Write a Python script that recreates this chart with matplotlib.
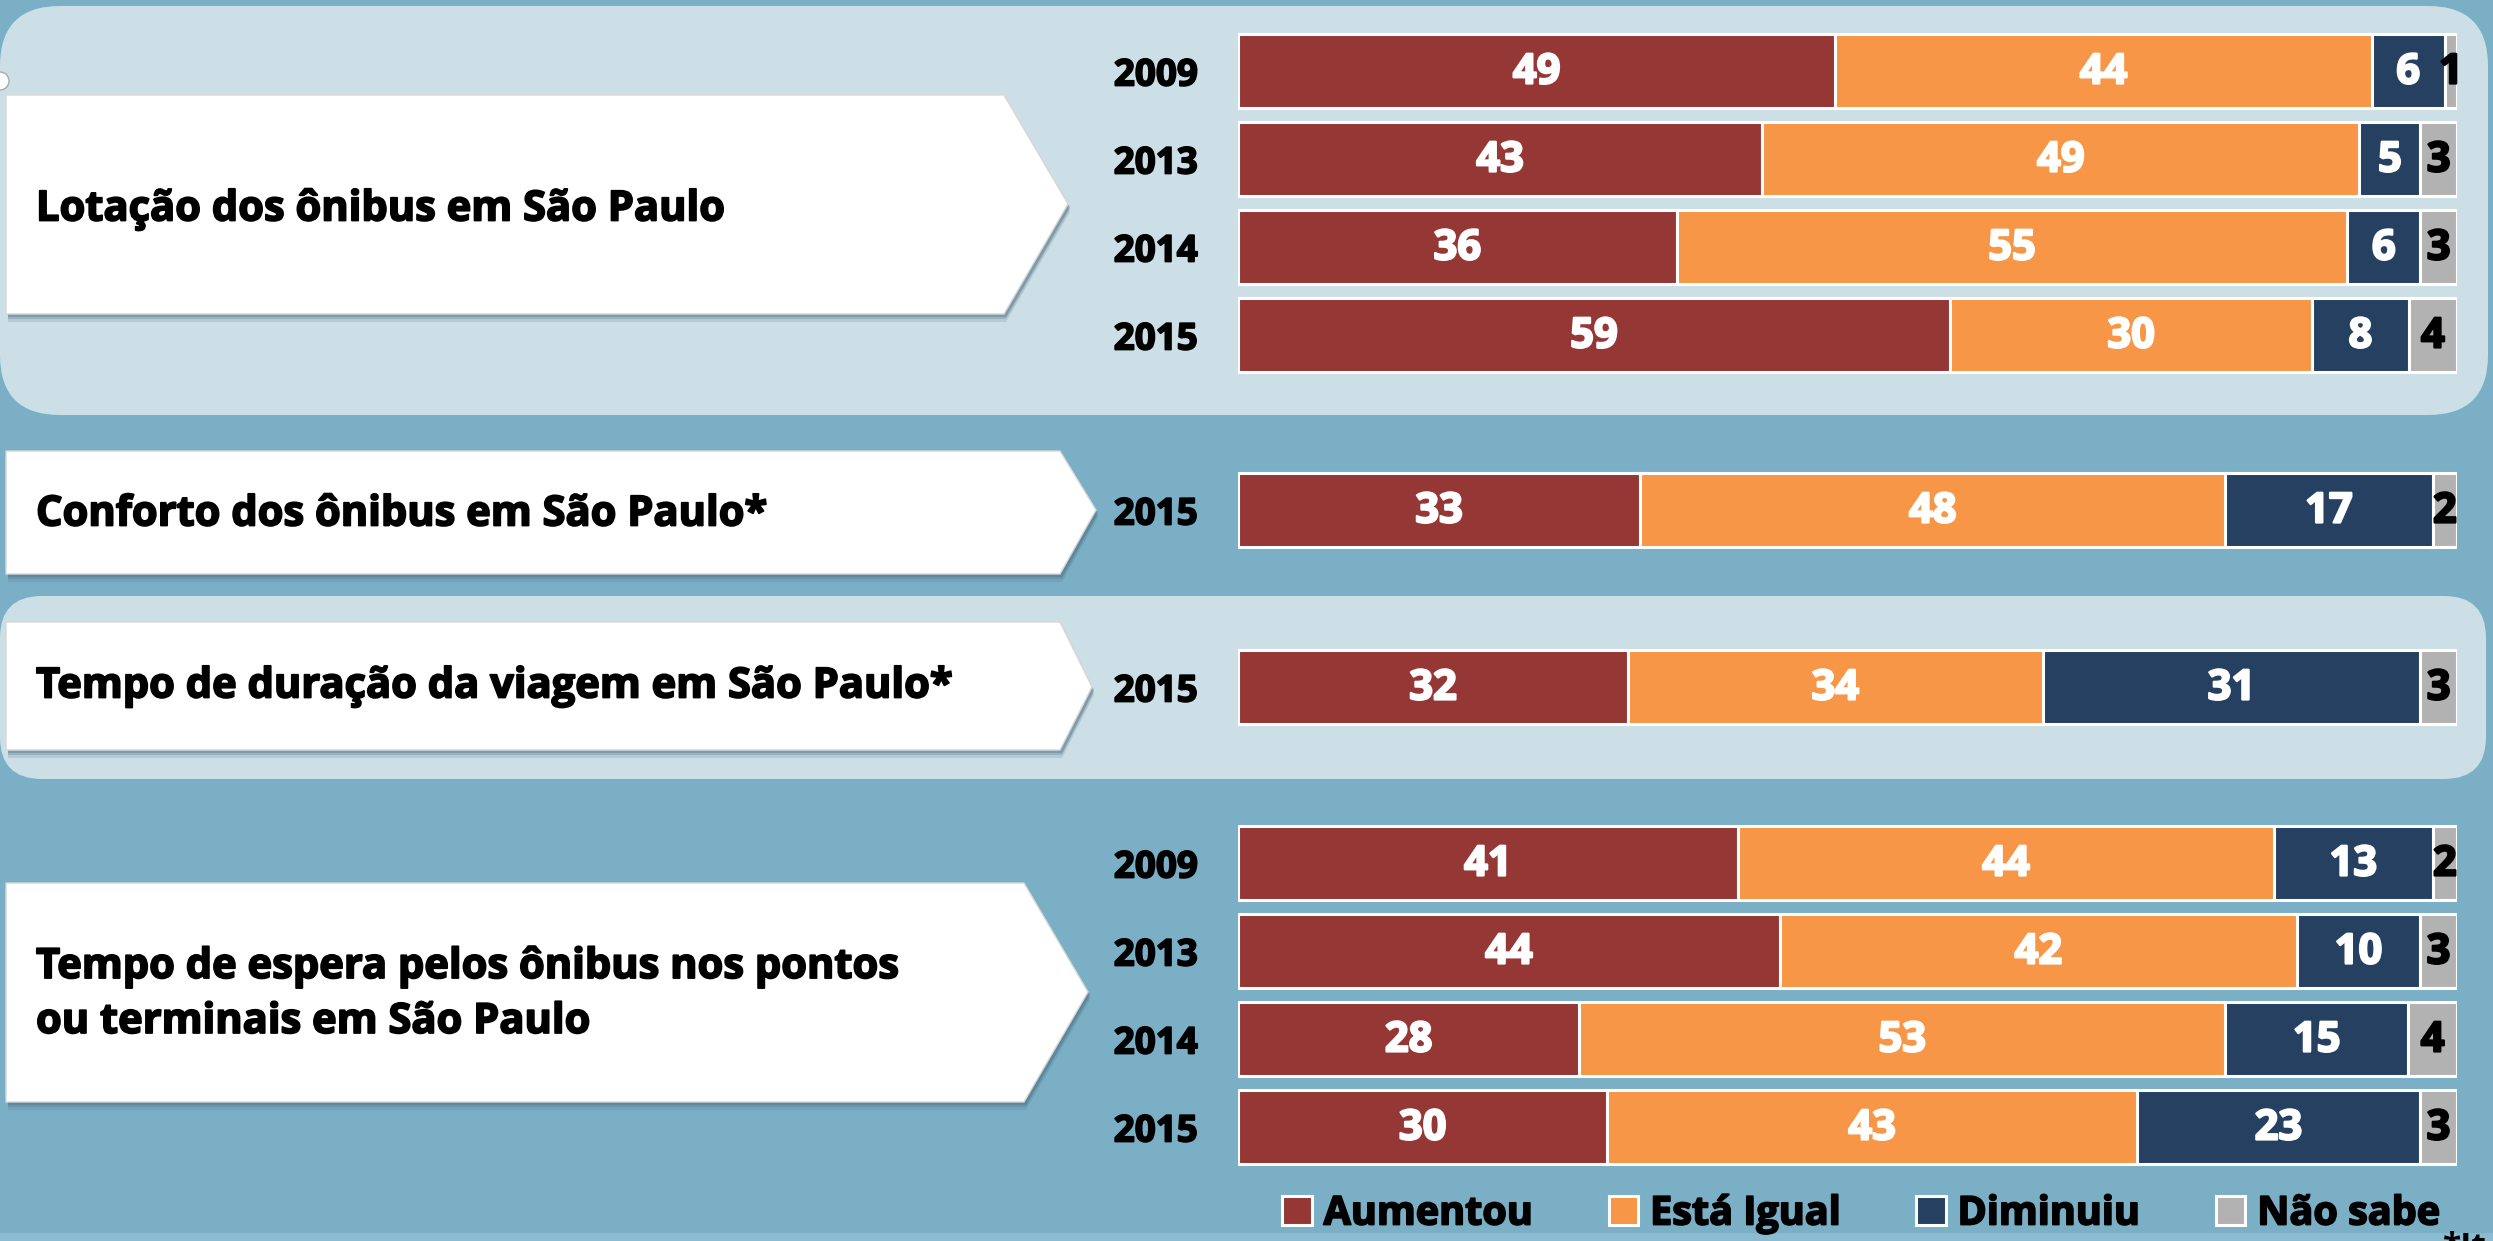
import numpy as np
import matplotlib
matplotlib.use('Agg')
import matplotlib.pyplot as plt
import matplotlib.patheffects as pe
from matplotlib.patches import Polygon, FancyBboxPatch, Circle, Rectangle

plt.rcParams['font.family'] = ['Open Sans', 'DejaVu Sans']
plt.rcParams['font.weight'] = 'bold'

# dados (%)
categorias = ['Lotação dos ônibus em São Paulo',
              'Conforto dos ônibus em São Paulo*',
              'Tempo de duração da viagem em São Paulo*',
              'Tempo de espera pelos ônibus nos pontos\nou terminais em São Paulo']
anos = ['2009', '2013', '2014', '2015', '2015', '2015', '2009', '2013', '2014', '2015']
aumentou = [49, 43, 36, 59, 33, 32, 41, 44, 28, 30]
esta_igual = [44, 49, 55, 30, 48, 34, 44, 42, 53, 43]
diminuiu = [6, 5, 6, 8, 17, 31, 13, 10, 15, 23]
nao_sabe = [1, 3, 3, 4, 2, 3, 2, 3, 4, 3]
series = ['Aumentou', 'Está Igual', 'Diminuiu', 'Não sabe']

# layout (pixels)
W, H = 2493, 1241
row_y = [71, 159, 247, 335, 510, 687, 863, 951, 1039, 1127]
label_y = [210, 515, 687, 995]
arrows = [  # y0, y1, x_flat, x_tip, y_tip
    (95, 314, 1004, 1068, 204),
    (451, 574, 1060, 1096, 510),
    (622, 750, 1060, 1092, 687),
    (883, 1102, 1024, 1088, 992),
]
cores = ['#953735', '#F79646', '#254061', '#B2B2B2']
txt_cores = ['white', 'white', 'white', 'black']
bg_col = '#7AAFC6'
panel_col = '#CDDFE6'


def grosso(c, w=1.3):
    # engrossa um pouco o texto (a fonte original e mais pesada)
    return [pe.withStroke(linewidth=w, foreground=c)]


fig = plt.figure(figsize=(W / 100, H / 100), dpi=100)
fig.patch.set_facecolor(bg_col)

bg = fig.add_axes([0, 0, 1, 1])
bg.set_xlim(0, W)
bg.set_ylim(H, 0)
bg.axis('off')

# paineis claros
bg.add_patch(FancyBboxPatch((0, 6), 2488, 409, boxstyle='round,pad=0,rounding_size=60',
                            fc=panel_col, ec='none'))
bg.add_patch(FancyBboxPatch((0, 596), 2486, 183, boxstyle='round,pad=0,rounding_size=42',
                            fc=panel_col, ec='none'))
bg.add_patch(Rectangle((0, 1233), W, 10, fc='#8BBBD0', ec='none'))
bg.add_patch(Circle((0, 81), 9, fc='white', ec='#aaaaaa', lw=1))

# setas com os rotulos
for (y0, y1, xf, xt, yt), cat, ly in zip(arrows, categorias, label_y):
    pts = [(6, y0), (xf, y0), (xt, yt), (xf, y1), (6, y1)]
    for k, a in [(8, 0.18), (5, 0.25), (3, 0.35)]:
        sh = [(x + 2, y + k) for x, y in pts]
        bg.add_patch(Polygon(sh, closed=True, fc='#4d6f80', ec='none', alpha=a))
    bg.add_patch(Polygon(pts, closed=True, fc='white', ec='#d8d8d8', lw=1))
    bg.text(36, ly, cat, fontsize=30, fontweight='bold', color='black',
            ha='left', va='center', linespacing=1.45, path_effects=grosso('black'))

# barras 100% empilhadas
ax = fig.add_axes([1238 / W, 0, (2457 - 1238) / W, 1])
ax.set_xlim(0, 100)
ax.set_ylim(H, 0)
ax.patch.set_alpha(0)
for s in ax.spines.values():
    s.set_visible(False)
ax.set_xticks([])

vals = np.array([aumentou, esta_igual, diminuiu, nao_sabe], dtype=float)
shares = vals / vals.sum(axis=0) * 100

left = np.zeros(len(row_y))
handles = []
for i in range(4):
    b = ax.barh(row_y, shares[i], left=left, height=74, color=cores[i],
                edgecolor='white', linewidth=2.2, label=series[i])
    handles.append(b)
    for y, l, w, v in zip(row_y, left, shares[i], vals[i]):
        ax.text(l + w / 2, y + 2, str(int(v)), color=txt_cores[i], fontsize=30,
                fontweight='bold', ha='center', va='center',
                path_effects=grosso(txt_cores[i], 1.6))
    left = left + shares[i]

ax.set_yticks(row_y)
ax.set_yticklabels(anos, fontsize=26.5, fontweight='bold')
for t in ax.get_yticklabels():
    t.set_path_effects(grosso('black'))
ax.tick_params(axis='y', length=0, pad=29)

leg = ax.legend(handles=handles, loc='center', bbox_to_anchor=(1861 / W, 1 - 1214 / H),
                bbox_transform=fig.transFigure, ncol=4, frameon=False,
                prop={'size': 28.5, 'weight': 'bold'}, handlelength=0.75, handleheight=0.75,
                handletextpad=0.3, columnspacing=1.9)
for t in leg.get_texts():
    t.set_path_effects(grosso('black'))

bg.text(2443, 1231, '*It', fontsize=24, fontweight='bold', ha='left', va='top')

fig.savefig('out.png', dpi=100, facecolor=fig.get_facecolor())
